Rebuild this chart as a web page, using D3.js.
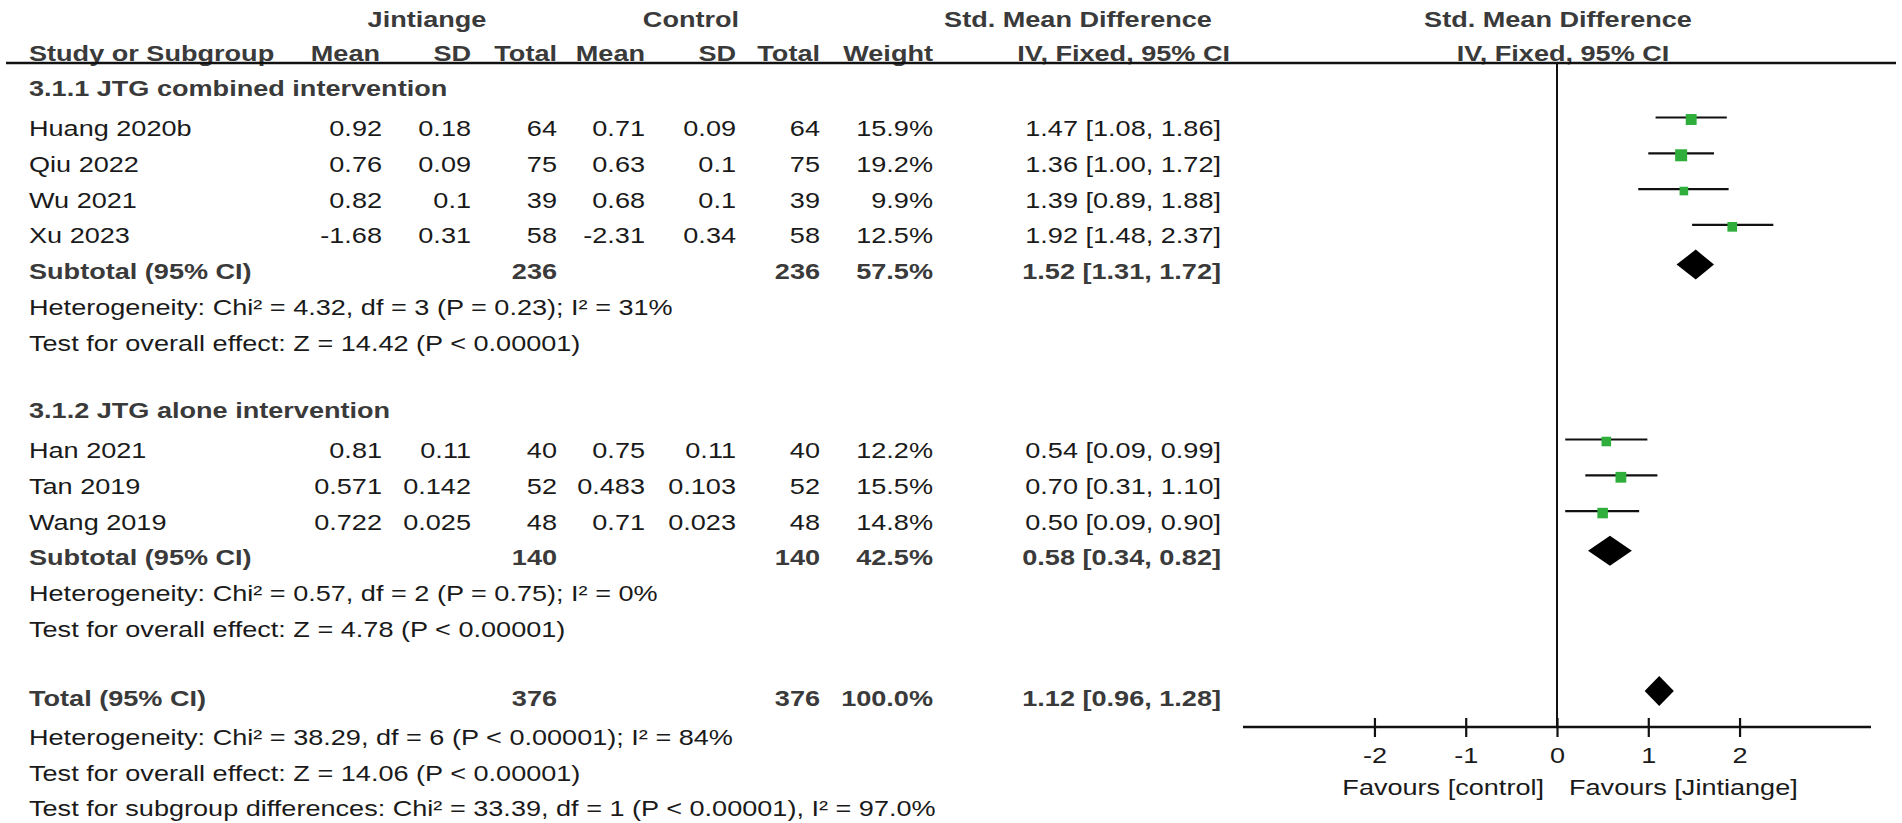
<!DOCTYPE html>
<html><head><meta charset="utf-8">
<script src="https://cdn.jsdelivr.net/npm/d3@7"></script>
<style>
html,body{margin:0;padding:0;background:#fff;}
svg{display:block;}
text{font-family:"Liberation Sans",Arial,sans-serif;font-size:22.3px;}
</style></head>
<body>
<svg id="chart" width="1902" height="823"></svg>
<script>
// ---------------- DATA ----------------
const studies   = ["Huang 2020b","Qiu 2022","Wu 2021","Xu 2023","Han 2021","Tan 2019","Wang 2019"];
const studyGroup= [0,0,0,0,1,1,1];
const expMean   = ["0.92","0.76","0.82","-1.68","0.81","0.571","0.722"];
const expSD     = ["0.18","0.09","0.1","0.31","0.11","0.142","0.025"];
const expN      = [64,75,39,58,40,52,48];
const ctlMean   = ["0.71","0.63","0.68","-2.31","0.75","0.483","0.71"];
const ctlSD     = ["0.09","0.1","0.1","0.34","0.11","0.103","0.023"];
const ctlN      = [64,75,39,58,40,52,48];
const weights   = [15.9,19.2,9.9,12.5,12.2,15.5,14.8];
const smd       = [1.47,1.36,1.39,1.92,0.54,0.70,0.50];
const ciLow     = [1.08,1.00,0.89,1.48,0.09,0.31,0.09];
const ciHigh    = [1.86,1.72,1.88,2.37,0.99,1.10,0.90];

const subgroupNames = ["3.1.1 JTG combined intervention","3.1.2 JTG alone intervention"];
const subExpN   = [236,140];
const subCtlN   = [236,140];
const subWeight = [57.5,42.5];
const subSmd    = [1.52,0.58];
const subLow    = [1.31,0.34];
const subHigh   = [1.72,0.82];
const subHet    = ["Heterogeneity: Chi² = 4.32, df = 3 (P = 0.23); I² = 31%",
                   "Heterogeneity: Chi² = 0.57, df = 2 (P = 0.75); I² = 0%"];
const subTest   = ["Test for overall effect: Z = 14.42 (P < 0.00001)",
                   "Test for overall effect: Z = 4.78 (P < 0.00001)"];

const totalN      = [376,376];
const totalWeight = 100.0;
const totalSmd    = [1.12,0.96,1.28];
const footerLines = ["Heterogeneity: Chi² = 38.29, df = 6 (P < 0.00001); I² = 84%",
                     "Test for overall effect: Z = 14.06 (P < 0.00001)",
                     "Test for subgroup differences: Chi² = 33.39, df = 1 (P < 0.00001), I² = 97.0%"];

const groupHeaders = ["Jintiange","Control","Std. Mean Difference","Std. Mean Difference"];
const colHeaders   = ["Study or Subgroup","Mean","SD","Total","Mean","SD","Total","Weight","IV, Fixed, 95% CI","IV, Fixed, 95% CI"];
const axisTicks    = [-2,-1,0,1,2];
const favours      = ["Favours [control]","Favours [Jintiange]"];

// ---------------- LAYOUT ----------------
const SX = 1.215;                      // horizontal glyph stretch
const BOLD = "#3a3a3a", REG = "#1a1a1a", GREEN = "#2fae3c";
const colRight = [382,471,557,645,736,820,933,1221];
const nameX = 29;
const footerY = [698,737,773,808];
const svg = d3.select("#chart");
const f2 = d3.format(".2f"), f1 = d3.format(".1f");

const x = d3.scaleLinear().domain([-3.44,3.44]).range([1243,1871]);
const rowY = d3.scaleLinear().domain([1,19]).range([128,772]);
const sq = d3.scaleSqrt().domain([0,19.2]).range([0,12]);

function txt(g, s, px, cy, anchor, bold){
  return g.append("text")
    .attr("transform", `translate(${px},${cy+8}) scale(${SX},1)`)
    .attr("text-anchor", anchor||"start")
    .attr("font-weight", bold ? "bold" : "normal")
    .attr("fill", bold ? BOLD : REG)
    .text(s);
}
const fmtCI = (e,l,h)=> `${f2(e)} [${f2(l)}, ${f2(h)}]`;

// ---------------- HEADER ----------------
const hdr = svg.append("g");
txt(hdr, groupHeaders[0], 427, 19, "middle", true);
txt(hdr, groupHeaders[1], 691, 19, "middle", true);
txt(hdr, groupHeaders[2], 1078, 19, "middle", true);
txt(hdr, groupHeaders[3], 1558, 19, "middle", true);
txt(hdr, colHeaders[0], nameX, 53, "start", true);
for(let i=1;i<=8;i++) txt(hdr, colHeaders[i], i===8?1230:colRight[i-1]-(i===1?2:0), 53, "end", true);
txt(hdr, colHeaders[9], 1563, 53, "middle", true);
hdr.append("line").attr("x1",6).attr("x2",1896).attr("y1",63).attr("y2",63)
   .attr("stroke","#111").attr("stroke-width",2.5);

// ---------------- ROWS ----------------
const body = svg.append("g");
const marks = svg.append("g");

// zero line
marks.append("line").attr("x1",x(0)).attr("x2",x(0)).attr("y1",64).attr("y2",727)
  .attr("stroke","#111").attr("stroke-width",2);

function diamond(e,l,h,cy){
  const pts=[[x(l),cy],[x(e),cy-15],[x(h),cy],[x(e),cy+15]];
  marks.append("path").attr("d","M"+pts.map(p=>p.join(",")).join("L")+"Z").attr("fill","#000");
}

let r = 0;
subgroupNames.forEach((gname,gi)=>{
  txt(body, gname, nameX, rowY(r)-4, "start", true); r++;
  studies.forEach((s,i)=>{
    if(studyGroup[i]!==gi) return;
    const cy = rowY(r);
    txt(body, s, nameX, cy);
    const vals=[expMean[i],expSD[i],expN[i],ctlMean[i],ctlSD[i],ctlN[i],f1(weights[i])+"%",fmtCI(smd[i],ciLow[i],ciHigh[i])];
    vals.forEach((v,c)=>txt(body, v, colRight[c], cy, "end"));
    marks.append("line").attr("x1",x(ciLow[i])).attr("x2",x(ciHigh[i]))
      .attr("y1",cy-10.5).attr("y2",cy-10.5).attr("stroke","#111").attr("stroke-width",2.2);
    const w = sq(weights[i]);
    marks.append("rect").attr("x",x(smd[i])-w/2).attr("y",cy-8.5-w/2).attr("width",w).attr("height",w).attr("fill",GREEN);
    r++;
  });
  const cy = rowY(r);
  txt(body, "Subtotal (95% CI)", nameX, cy, "start", true);
  txt(body, subExpN[gi], colRight[2], cy, "end", true);
  txt(body, subCtlN[gi], colRight[5], cy, "end", true);
  txt(body, f1(subWeight[gi])+"%", colRight[6], cy, "end", true);
  txt(body, fmtCI(subSmd[gi],subLow[gi],subHigh[gi]), colRight[7], cy, "end", true);
  diamond(subSmd[gi],subLow[gi],subHigh[gi], cy-6.5);
  r++;
  txt(body, subHet[gi], nameX, rowY(r)); r++;
  txt(body, subTest[gi], nameX, rowY(r)); r++;
  r++; // blank
});
{
  const cy = footerY[0];
  txt(body, "Total (95% CI)", nameX, cy, "start", true);
  txt(body, totalN[0], colRight[2], cy, "end", true);
  txt(body, totalN[1], colRight[5], cy, "end", true);
  txt(body, f1(totalWeight)+"%", colRight[6], cy, "end", true);
  txt(body, fmtCI(totalSmd[0],totalSmd[1],totalSmd[2]), colRight[7], cy, "end", true);
  diamond(totalSmd[0],totalSmd[1],totalSmd[2], cy-7);
  footerLines.forEach((l,k)=> txt(body, l, nameX, footerY[k+1]));
}

// ---------------- AXIS ----------------
svg.append("line").attr("x1",x.range()[0]).attr("x2",x.range()[1]).attr("y1",727).attr("y2",727)
  .attr("stroke","#111").attr("stroke-width",2.5);
const ax = svg.append("g").attr("transform","translate(0,718)")
  .call(d3.axisBottom(x).tickValues(axisTicks).tickSize(19).tickPadding(10.5).tickFormat(d3.format("d")));
ax.select(".domain").remove();
ax.selectAll(".tick line").attr("stroke","#111").attr("stroke-width",2.2);
ax.selectAll(".tick text").attr("font-size",22.3).attr("font-family",'"Liberation Sans",Arial,sans-serif')
  .attr("fill",REG).attr("transform",`scale(${SX},1)`).text(d=>d<0?"-"+Math.abs(d):d);
txt(svg, favours[0], x(0)-13, 787, "end");
txt(svg, favours[1], x(0)+12, 787, "start");
</script>
</body></html>
